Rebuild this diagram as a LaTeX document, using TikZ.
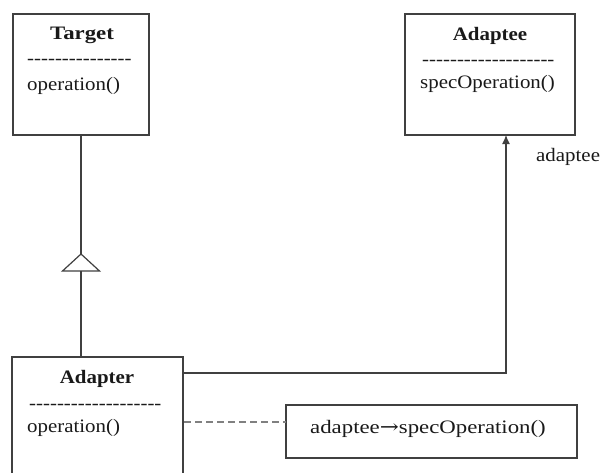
\documentclass[tikz,border=0pt]{standalone}
\usepackage{fontspec}
\usepackage{graphicx}
\setmainfont{Liberation Serif}
\usetikzlibrary{arrows.meta}

% slightly widened lettering used throughout the class diagram
\newcommand{\wide}[1]{\scalebox{1.1}[1]{#1}}
% a plain hyphen that never joins its neighbours into a dash
\newcommand{\hy}{-\kern0pt}
\newcommand{\rulerow}[1]{\foreach \i in {1,...,#1}{\hy}}

\tikzset{
  classbox/.style={draw=black!75, line width=1.3pt, fill=white, inner sep=0pt},
  notebox/.style={draw=black!75, line width=1.3pt, fill=white, inner sep=0pt},
  txt/.style={inner sep=0pt, text=black!90, font=\fontsize{19}{22}\selectfont},
  title/.style={txt, font=\fontsize{19}{22}\selectfont\bfseries},
  link/.style={draw=black!75, line width=1.2pt},
  dashlink/.style={draw=black!50, line width=1.2pt, dash pattern=on 7pt off 4pt},
}

\begin{document}
\begin{tikzpicture}[x=1pt, y=-1pt]
  \useasboundingbox (0,0) rectangle (606,472);
  \clip (0,0) rectangle (606,472);
  \fill[white] (0,0) rectangle (606,472);

  % class Target
  \node[classbox, minimum width=136pt, minimum height=121pt] (target) at (81,74.5) {};
  \node[title] (targetname) at (82,35) {\scalebox{1.2}[1]{Target}};
  \node[txt, anchor=west] (targetsep) at (27,62) {\wide{\rulerow{15}}};
  \node[txt, anchor=west] (targetop) at (27,86) {\wide{operation()}};

  % class Adaptee
  \node[classbox, minimum width=170pt, minimum height=121pt] (adaptee) at (490,74.5) {};
  \node[title] (adapteename) at (490,36) {\wide{Adaptee}};
  \node[txt, anchor=west] (adapteesep) at (422,63) {\wide{\rulerow{19}}};
  \node[txt, anchor=west] (adapteeop) at (420,84) {\wide{specOperation()}};

  % class Adapter (runs past the lower edge)
  \node[classbox, minimum width=171pt, minimum height=140pt] (adapter) at (97.5,427) {};
  \node[title] (adaptername) at (97,379) {\wide{Adapter}};
  \node[txt, anchor=west] (adaptersep) at (29,407) {\wide{\rulerow{19}}};
  \node[txt, anchor=west] (adapterop) at (27,428) {\wide{operation()}};

  % note attached to Adapter.operation()
  \node[notebox, minimum width=291pt, minimum height=53pt] (note) at (431.5,431.5) {};
  \node[txt] (notetext) at (428,429) {\scalebox{1.2}[1]{adaptee{\fontspec{DejaVu Serif}→}specOperation()}};

  % generalisation Adapter -> Target
  \coordinate (apex) at (81,254);
  \coordinate (basel) at (62.5,271);
  \coordinate (baser) at (99.5,271);
  \coordinate (basem) at (81,271);
  \coordinate (adaptertop) at (81,357);
  \draw[link] (target.south) -- (apex);
  \draw[link, fill=white] (apex) -- (basel) -- (baser) -- cycle;
  \draw[link] (basem) -- (adaptertop);

  % association Adapter -> Adaptee
  \coordinate (assocstart) at (183,373);
  \coordinate (bend) at (506,373);
  \coordinate (assocend) at (506,135);
  \draw[link, -{Latex[length=9pt, width=8pt]}] (assocstart) -- (bend) -- (assocend);
  \node[txt, anchor=west] (rolename) at (536,157) {\wide{adaptee}};

  % dashed link to the note
  \coordinate (dashstart) at (184,422);
  \coordinate (dashend) at (286,422);
  \draw[dashlink] (dashstart) -- (dashend);
\end{tikzpicture}
\end{document}
